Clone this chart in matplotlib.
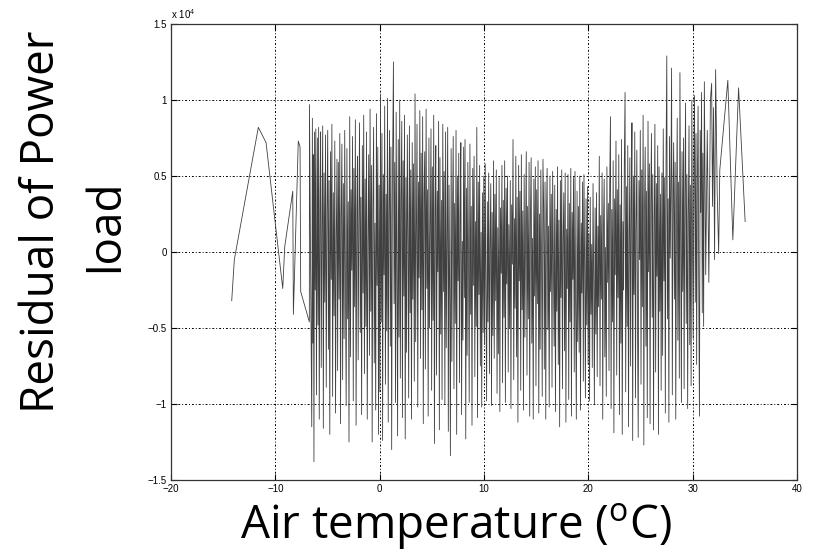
import numpy as np
import matplotlib
matplotlib.use("Agg")
import matplotlib.pyplot as plt

# Air temperature (deg C), sorted, as plotted
air_temp = [
    -14.18, -13.93, -11.63, -10.89, -9.29, -9.10, -8.33, -8.27, -7.80, -7.63, -7.57, -6.74, -6.73,
    -6.51, -6.45, -6.40, -6.36, -6.30, -6.24, -6.18, -6.12, -6.06,
    -5.97, -5.91, -5.85, -5.79, -5.72, -5.66, -5.60, -5.53, -5.46, -5.40, -5.33, -5.26, -5.19, -5.12, -5.05,
    -4.98, -4.91, -4.85, -4.78, -4.71, -4.64, -4.58, -4.51, -4.44, -4.37, -4.30, -4.23, -4.16, -4.09, -4.03,
    -3.96, -3.89, -3.82, -3.75, -3.69, -3.62, -3.55, -3.48, -3.41, -3.35, -3.28, -3.21, -3.14, -3.07, -3.01,
    -2.94, -2.87, -2.80, -2.74, -2.67, -2.60, -2.53, -2.47, -2.40, -2.33, -2.26, -2.19, -2.13, -2.06, -2.00,
    -1.93, -1.86, -1.80, -1.73, -1.66, -1.59, -1.53, -1.46, -1.39, -1.32, -1.26, -1.19, -1.12, -1.05,
    -0.98, -0.92, -0.85, -0.78, -0.72, -0.65, -0.58, -0.52, -0.45, -0.38, -0.31, -0.25, -0.18, -0.11, -0.05,
    0.02, 0.08, 0.15, 0.22, 0.28, 0.35, 0.42, 0.48, 0.55, 0.62, 0.68, 0.75, 0.82, 0.88, 0.95,
    1.02, 1.08, 1.15, 1.22, 1.28, 1.32, 1.38, 1.45, 1.52, 1.58, 1.65, 1.72, 1.78, 1.85, 1.92, 1.98,
    2.05, 2.12, 2.18, 2.25, 2.32, 2.38, 2.45, 2.52, 2.58, 2.65, 2.72, 2.78, 2.85, 2.92, 2.98,
    3.05, 3.12, 3.18, 3.25, 3.32, 3.39, 3.45, 3.52, 3.58, 3.65, 3.72, 3.78, 3.85, 3.92, 3.98,
    4.05, 4.12, 4.18, 4.25, 4.32, 4.38, 4.45, 4.52, 4.58, 4.65, 4.72, 4.78, 4.85, 4.92, 4.98,
    5.05, 5.12, 5.18, 5.25, 5.32, 5.38, 5.45, 5.52, 5.58, 5.65, 5.72, 5.78, 5.85, 5.92, 5.98,
    6.05, 6.12, 6.18, 6.25, 6.32, 6.38, 6.45, 6.52, 6.58, 6.65, 6.72, 6.78, 6.85, 6.92, 6.98,
    7.05, 7.12, 7.18, 7.25, 7.32, 7.38, 7.45, 7.52, 7.58, 7.65, 7.72, 7.78, 7.85, 7.92, 7.98,
    8.05, 8.12, 8.18, 8.25, 8.32, 8.38, 8.45, 8.52, 8.58, 8.65, 8.72, 8.78, 8.85, 8.92, 8.98,
    9.05, 9.12, 9.18, 9.25, 9.31, 9.38, 9.45, 9.52, 9.58, 9.65, 9.72, 9.78, 9.85, 9.92, 9.98,
    10.05, 10.12, 10.18, 10.25, 10.32, 10.38, 10.45, 10.52, 10.58, 10.65, 10.72, 10.78, 10.85, 10.92, 10.98,
    11.05, 11.12, 11.18, 11.25, 11.32, 11.38, 11.45, 11.52, 11.58, 11.65, 11.72, 11.78, 11.85, 11.92, 11.98,
    12.05, 12.12, 12.18, 12.25, 12.32, 12.38, 12.45, 12.52, 12.58, 12.65, 12.72, 12.78, 12.85, 12.92, 12.98,
    13.05, 13.12, 13.18, 13.25, 13.32, 13.38, 13.45, 13.52, 13.58, 13.65, 13.72, 13.78, 13.85, 13.92, 13.98,
    14.05, 14.12, 14.18, 14.25, 14.32, 14.38, 14.45, 14.52, 14.58, 14.65, 14.72, 14.78, 14.85, 14.92, 14.98,
    15.05, 15.12, 15.18, 15.25, 15.32, 15.38, 15.45, 15.52, 15.58, 15.65, 15.72, 15.78, 15.85, 15.92, 15.98,
    16.05, 16.12, 16.18, 16.25, 16.32, 16.38, 16.45, 16.52, 16.58, 16.65, 16.72, 16.78, 16.85, 16.92, 16.98,
    17.05, 17.12, 17.18, 17.25, 17.32, 17.38, 17.45, 17.52, 17.58, 17.65, 17.72, 17.78, 17.85, 17.92, 17.98,
    18.05, 18.12, 18.18, 18.25, 18.32, 18.38, 18.45, 18.52, 18.58, 18.65, 18.72, 18.78, 18.85, 18.92, 18.98,
    19.05, 19.12, 19.18, 19.25, 19.32, 19.38, 19.45, 19.52, 19.58, 19.65, 19.72, 19.78, 19.85, 19.92, 19.98,
    20.05, 20.12, 20.18, 20.25, 20.32, 20.38, 20.45, 20.52, 20.58, 20.65, 20.72, 20.78, 20.85, 20.92, 20.98,
    21.05, 21.12, 21.18, 21.25, 21.32, 21.38, 21.45, 21.52, 21.58, 21.65, 21.72, 21.78, 21.85, 21.92, 21.98,
    22.05, 22.12, 22.18, 22.25, 22.32, 22.38, 22.45, 22.52, 22.58, 22.65, 22.72, 22.78, 22.85, 22.92, 22.98,
    23.05, 23.12, 23.18, 23.25, 23.32, 23.38, 23.45, 23.52, 23.58, 23.65, 23.72, 23.78, 23.85, 23.92, 23.98,
    24.05, 24.12, 24.18, 24.25, 24.32, 24.38, 24.45, 24.52, 24.58, 24.65, 24.72, 24.78, 24.85, 24.92, 24.98,
    25.05, 25.12, 25.18, 25.25, 25.32, 25.38, 25.45, 25.52, 25.58, 25.65, 25.72, 25.78, 25.85, 25.92, 25.98,
    26.05, 26.12, 26.18, 26.25, 26.32, 26.38, 26.45, 26.52, 26.58, 26.65, 26.72, 26.78, 26.85, 26.92, 26.98,
    27.05, 27.12, 27.18, 27.25, 27.32, 27.38, 27.45, 27.52, 27.58, 27.65, 27.72, 27.78, 27.85, 27.92, 27.98,
    28.05, 28.12, 28.18, 28.25, 28.32, 28.38, 28.45, 28.52, 28.58, 28.65, 28.72, 28.78, 28.85, 28.92, 28.98,
    29.05, 29.12, 29.18, 29.25, 29.32, 29.38, 29.45, 29.52, 29.58, 29.65, 29.72, 29.78, 29.85, 29.92, 29.98,
    30.05, 30.12, 30.18, 30.25, 30.32, 30.38, 30.45, 30.52, 30.58, 30.65, 30.72, 30.78, 30.85, 30.92, 30.98,
    31.05, 31.12, 31.25, 31.40, 31.55, 31.70, 31.82, 31.90, 32.00, 32.10, 32.20, 32.35, 32.49, 32.60,
    33.37, 33.85, 34.40, 35.03,
]

# Residual of power load, in thousands
residual_k = [
    -3.2, -0.5, 8.2, 7.2, -2.4, 0.35, 4.0, -4.1, 7.3, 6.9, -2.6, -4.6, 9.7,
    -11.5, 8.8, -6.0, 6.4, -13.8, 7.9, -2.5, 8.1, -9.4,
    7.5, -4.8, 8.2, -11.0, 3.1, 7.9, -7.6, 1.4, 8.3, -11.6, 5.2, -3.3, 7.7, -8.9, 2.6,
    8.0, -6.4, 4.7, -12.0, 6.6, -1.8, 8.4, -9.5, 3.9, -4.2, 7.3, -10.6, 1.0, 6.1, -7.8,
    5.9, -3.1, 7.8, -11.3, 2.2, 7.1, -8.4, 4.5, -5.7, 8.0, -2.0, -10.1, 6.8, -4.4, 3.3,
    -12.5, 8.9, -6.9, 4.1, -1.2, 7.6, -9.8, 5.5, -3.6, 8.7, -11.4, 2.8, 6.3, -7.1, 1.7,
    8.5, -5.3, 3.6, -10.7, 7.0, -2.7, 9.0, -8.0, 4.8, -4.9, 7.9, -11.0, 0.6, 6.4,
    -6.8, 9.4, -3.9, 5.7, -12.5, 3.0, 8.2, -7.3, 1.9, -10.4, 9.1, -2.2, 6.9, -12.0, 4.4,
    -9.2, 10.4, -4.6, 7.8, -12.4, 5.1, -1.5, 9.6, -8.7, 3.8, -5.2, 10.1, -11.2, 2.4, 8.0,
    -6.2, 6.9, -13.0, 4.3, 8.8, 12.5, -3.4, 5.9, -9.9, 9.2, -1.0, -12.1, 7.4, -5.6, 10.0, -8.3,
    3.5, 8.6, -10.9, 6.0, -2.9, 9.0, -12.3, 4.9, -6.6, 7.7, 0.8, -9.6, 8.3, -4.0, 5.4,
    -11.0, 7.2, -3.1, 5.8, -8.5, 10.4, -5.9, 2.1, 8.4, -10.2, 4.6, -1.7, 9.3, -7.0, 6.5,
    -3.8, 8.9, -11.3, 3.7, 6.6, -7.7, 9.4, -2.4, 4.1, -10.8, 7.5, -5.0, 1.2, 8.1, -9.1,
    5.6, -4.5, 9.0, -12.6, 2.9, 7.0, -8.1, 4.0, -1.3, 8.6, -11.7, 6.2, -5.4, 3.4, -9.7,
    8.4, -2.6, 5.3, -10.0, 7.9, -6.3, 1.5, 8.2, -11.8, 4.4, -3.5, -13.4, 6.8, -7.2, 2.3,
    7.6, -9.0, 3.2, -4.7, 8.0, -12.0, 5.0, -1.9, 6.5, -8.6, 2.5, 7.2, -10.7, 0.7, -5.8,
    6.9, -3.0, 7.4, -12.3, 4.2, -6.8, 5.9, -0.9, -9.9, 7.1, -4.1, 3.0, -11.4, 5.5, -2.2,
    6.3, -8.2, 2.0, -4.9, 8.2, -10.9, 4.6, -2.8, 5.7, -7.5, 1.3, -10.2, 3.9, -5.3, 5.0,
    -6.1, 5.8, -2.4, -9.8, 3.3, -4.6, 5.2, -8.0, 0.4, 4.5, -10.1, 2.6, -5.5, 6.0, -7.0,
    3.8, -3.2, 5.4, -9.3, 1.6, -6.7, 4.9, -10.5, 2.9, -1.4, 5.7, -8.6, 3.4, -4.3, 6.0,
    -9.9, 4.2, -2.1, 5.0, -7.9, 1.8, -5.0, 4.7, -10.3, 3.1, -0.8, 7.4, -8.4, 2.2, -3.7,
    6.3, -6.9, 3.6, -11.2, 5.7, -1.9, 4.0, -9.1, 6.4, -3.8, 2.7, -10.4, 5.1, -5.6, 1.0,
    6.6, -8.1, 3.0, -4.4, 5.9, -10.8, 2.3, 6.2, -6.0, 0.9, -11.0, 4.8, -2.9, 5.6, -8.8,
    4.1, -3.4, 6.0, -10.6, 2.5, -6.4, 5.4, -1.2, -9.5, 6.1, 3.0, -7.7, 4.6, -11.0, 2.0,
    5.5, -5.1, 1.7, -10.2, 5.0, -2.6, 3.8, -8.9, 5.3, -0.6, -6.2, 4.4, -10.5, 2.8, -3.9,
    5.6, -7.4, 2.1, -11.5, 4.7, -3.0, 5.4, -9.0, 0.8, 3.9, -6.5, 5.2, -11.2, 1.5, -2.4,
    5.1, -9.7, 3.2, -4.6, 5.5, -10.8, 2.6, -1.8, 4.9, -7.9, 5.3, -3.3, -11.0, 4.0, -5.9,
    3.0, -6.6, 5.0, -10.4, 1.9, -2.7, 4.6, -8.5, 5.1, -1.0, -9.6, 3.5, -4.8, 4.3, -7.4,
    1.2, -9.8, 3.6, -4.1, 0.5, -7.6, 4.5, -2.3, -10.0, 2.9, -5.4, 3.9, -8.2, 1.7, -3.6,
    6.3, -8.8, 2.4, -3.1, 5.2, -11.0, 1.6, 4.8, -6.9, 0.3, -9.5, 5.6, -2.0, 3.2, -7.8,
    4.4, 8.9, -10.3, 2.8, -4.6, 6.0, -11.9, 3.5, -1.5, 7.3, -8.1, 4.1, -3.0, 6.4, -10.7,
    3.1, -6.0, 7.4, -12.0, 2.0, -2.5, 5.8, 10.5, -9.2, 4.3, -4.9, 7.0, -11.5, 1.1, 6.2,
    -7.5, 3.6, 8.5, -12.4, 5.0, -2.8, 7.9, -9.6, 1.4, 6.7, -5.3, -12.2, 4.7, -0.5, 8.0,
    -8.7, 5.4, -3.6, 9.0, -12.7, 2.5, 6.9, -6.2, 4.0, -10.9, 8.6, -1.3, 5.8, -11.3, 3.0,
    7.8, -4.3, 5.1, -11.7, 2.2, 8.4, -7.9, 4.5, -1.6, 7.0, -12.0, 5.6, -3.9, 3.8, -9.1,
    5.2, -6.8, 8.1, -1.9, 4.9, -10.6, 6.3, 12.9, -4.4, 3.5, -11.2, 7.6, -0.4, 5.0, 12.1,
    -9.4, 4.0, 7.2, -3.1, 5.9, -11.0, 2.7, 8.8, -5.8, 4.6, -8.3, 11.8, 1.3, -9.9, 6.6,
    -2.6, 7.5, -9.0, 3.9, 9.8, -4.7, 5.1, -10.3, 2.1, 8.3, -6.1, 4.4, -8.8, 10.0, 0.9,
    -5.7, 6.0, 10.3, -3.3, 7.8, -7.4, 4.8, 9.6, -1.8, -10.8, 8.0, 2.6, 10.5, -4.0, 6.5,
    -4.9, 11.2, -1.5, 8.0, -2.0, 10.0, 11.1, 3.0, 9.5, -0.5, 12.0, 4.0, -0.1, 5.4,
    11.3, 0.8, 10.8, 2.0,
]

x_ticks = [-20, -10, 0, 10, 20, 30, 40]
y_ticks = [-1.5e4, -1e4, -0.5e4, 0, 0.5e4, 1e4, 1.5e4]
y_tick_labels = ['\u22121.5', '\u22121', '\u22120.5', '0', '0.5', '1', '1.5']
x_tick_labels = ['\u221220', '\u221210', '0', '10', '20', '30', '40']

plt.rcParams['mathtext.fontset'] = 'custom'
plt.rcParams['mathtext.rm'] = 'Open Sans'

fig = plt.figure(figsize=(8.13, 5.55), dpi=100)
ax = fig.add_axes([171 / 813, 75 / 555, 626 / 813, 456 / 555])

residual = np.array(residual_k) * 1000
ax.plot(air_temp, residual, color='0.25', linewidth=0.6)

ax.set_xlim(-20, 40)
ax.set_ylim(-1.5e4, 1.5e4)
ax.set_xticks(x_ticks)
ax.set_xticklabels(x_tick_labels, fontsize=7, family='Liberation Sans')
ax.set_yticks(y_ticks)
ax.set_yticklabels(y_tick_labels, fontsize=7, family='Liberation Sans')
ax.tick_params(direction='in', length=4, width=0.8, top=True, right=True, pad=3)
ax.grid(True, color='black', linestyle=(0, (2, 2, 1, 2)), linewidth=0.7)
for s in ax.spines.values():
    s.set_linewidth(0.9)
    s.set_color('0.2')

fig.text(171 / 813, 1 - 14 / 555, 'x 10$^{4}$', fontsize=7, family='Liberation Sans',
         ha='left', va='center')

# y label, two centred lines
fig.text(42 / 813, 1 - 222 / 555, 'Residual of Power', rotation=90, fontsize=33,
         family='Open Sans', ha='center', va='center')
fig.text(106 / 813, 1 - 226 / 555, 'load', rotation=90, fontsize=33,
         family='Open Sans', ha='center', va='center')
fig.text(456 / 813, 1 - 527 / 555, 'Air temperature ($\\mathrm{^{o}}$C)', fontsize=33,
         family='Open Sans', ha='center', va='center')

fig.savefig('out.png', dpi=100)
